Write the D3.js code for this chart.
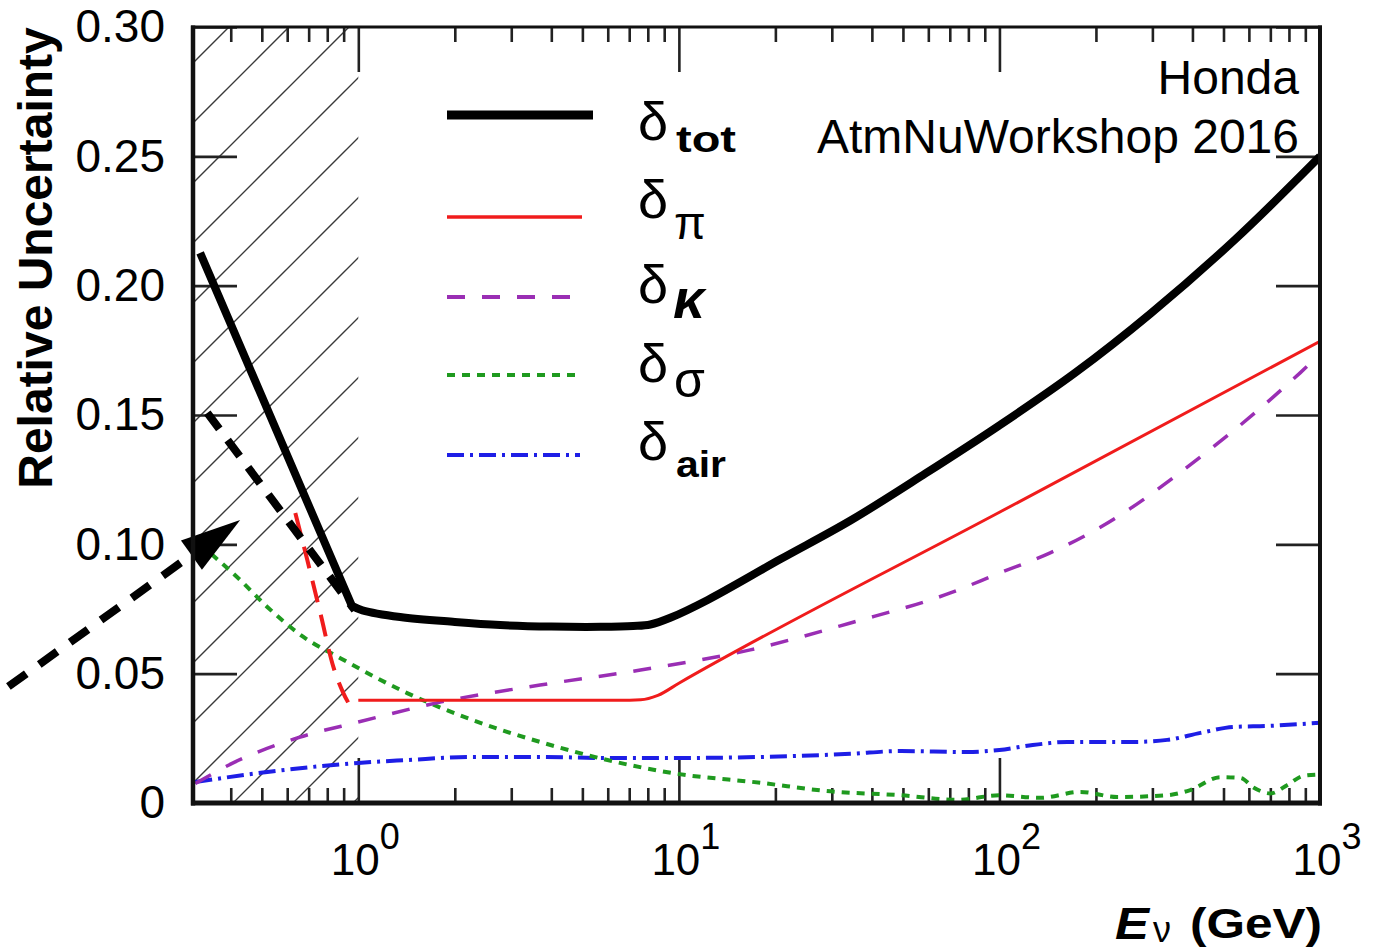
<!DOCTYPE html>
<html>
<head>
<meta charset="utf-8">
<script src="https://cdn.jsdelivr.net/npm/d3@7"></script>
<style>
  body { margin: 0; background: #fff; }
  svg text { font-family: "Liberation Sans", Arial, sans-serif; fill: #000; }
</style>
</head>
<body>
<svg id="chart" width="1375" height="952"></svg>
<script>
// ---- data: [neutrino energy (GeV), relative uncertainty] ----
const deltaTot = [[0.321,0.2127],[0.955,0.0762],[1.03,0.0745],[1.35,0.0719],[2.0,0.0700],[2.77,0.0688],[4.0,0.0682],[5.7,0.0681],[7.2,0.0684],[8.15,0.0690],[9.4,0.0716],[12.3,0.0785],[20.7,0.0942],[34.3,0.1092],[58.8,0.1274],[100,0.1460],[172.7,0.1664],[296,0.1892],[545,0.2180],[1000,0.2500]];
const deltaPi = [[1.0,0.0397],[6.5,0.0397],[7.6,0.0399],[8.6,0.0416],[10,0.0463],[100,0.1124],[1000,0.1785]];
const deltaPiLow = [[0.636,0.1121],[0.693,0.0940],[0.761,0.0735],[0.836,0.0526],[0.898,0.0425],[0.931,0.0387]];
const deltaK = [[0.31,0.0075],[0.407,0.0155],[0.659,0.0255],[1.0,0.0313],[1.80,0.0390],[3.69,0.0456],[7.59,0.0514],[16.7,0.0592],[34.3,0.0696],[70.3,0.0812],[100,0.0889],[144,0.0967],[207,0.1067],[424,0.1338],[867,0.1663],[1000,0.1735]];
const deltaSigma = [[0.321,0.1000],[0.428,0.0862],[0.520,0.0758],[0.674,0.0642],[0.879,0.0560],[1.42,0.0425],[2.28,0.0320],[3.69,0.0236],[5.99,0.0166],[9.63,0.0115],[18.0,0.0078],[29.7,0.0045],[49.1,0.0030],[73.9,0.0012],[100,0.0030],[134,0.0020],[179,0.0043],[233,0.0023],[334,0.0030],[394,0.0050],[489,0.0100],[565,0.0097],[620,0.0060],[701,0.0037],[792,0.0070],[888,0.0105],[1000,0.0110]];
const deltaAir = [[0.31,0.0081],[0.520,0.0120],[0.836,0.0147],[1.0,0.0155],[1.42,0.0166],[2.28,0.0178],[3.69,0.0178],[5.99,0.0174],[9.63,0.0174],[17.96,0.0178],[34.3,0.0190],[49.1,0.0201],[79.4,0.0197],[100,0.0205],[127,0.0224],[163,0.0236],[261,0.0236],[334,0.0244],[424,0.0271],[537,0.0294],[685,0.0298],[1000,0.0310]];

// annotations: arrow, dashed guide and the hatched low-energy band
const arrowPath = [[0.081,0.045],[0.428,0.1094]];
const dashedGuide = [[0.338,0.1508],[0.975,0.0746]];
const hatchRange = [0.305, 1.0];

// axes
const xDomain = [0.305, 1000];
const yDomain = [0, 0.30];
const yTicks = [0, 0.05, 0.10, 0.15, 0.20, 0.25, 0.30];
const yTickLabels = ["0", "0.05", "0.10", "0.15", "0.20", "0.25", "0.30"];
const xMajor = [1, 10, 100, 1000];
const xExponents = ["0", "1", "2", "3"];

// legend
const legendSymbols = ["δ", "δ", "δ", "δ", "δ"];
const legendSubs = ["tot", "π", "κ", "σ", "air"];

// annotation text
const noteLines = ["Honda", "AtmNuWorkshop 2016"];

// ---- layout ----
const L = 193, R = 1320, T = 27, B = 803;
const svg = d3.select("#chart");
const x = d3.scaleLog().domain(xDomain).range([L, R]);
const y = d3.scaleLinear().domain(yDomain).range([B, T]);

const defs = svg.append("defs");
defs.append("clipPath").attr("id", "plotClip")
  .append("rect").attr("x", L).attr("y", T).attr("width", R - L).attr("height", B - T);

const hatch = defs.append("pattern").attr("id", "hatch")
  .attr("patternUnits", "userSpaceOnUse").attr("width", 60).attr("height", 60)
  .attr("patternTransform", "translate(16,0)");
hatch.append("path").attr("d", "M0,60 L60,0 M-2,2 L2,-2 M58,62 L62,58")
  .attr("stroke", "#3a3a3a").attr("stroke-width", 1.4);

// hatched band
svg.append("rect")
  .attr("x", x(hatchRange[0])).attr("y", T)
  .attr("width", x(hatchRange[1]) - x(hatchRange[0])).attr("height", B - T)
  .attr("fill", "url(#hatch)");

// ---- ticks ----
const minor = [];
[0.1, 1, 10, 100].forEach(d => { for (let k = 2; k <= 9; k++) { const v = d * k; if (v > xDomain[0] && v < xDomain[1]) minor.push(v); } });

function styleAxis(g) {
  g.select(".domain").remove();
  g.selectAll(".tick line").attr("stroke", "#222").attr("stroke-width", 2.6);
}

svg.append("g").attr("transform", `translate(0,${B})`)
  .call(d3.axisBottom(x).tickValues(xMajor).tickSize(-45).tickFormat(""))
  .call(styleAxis);
svg.append("g").attr("transform", `translate(0,${B})`)
  .call(d3.axisBottom(x).tickValues(minor).tickSize(-15).tickFormat(""))
  .call(styleAxis);
svg.append("g").attr("transform", `translate(0,${T})`)
  .call(d3.axisTop(x).tickValues(xMajor).tickSize(-45).tickFormat(""))
  .call(styleAxis);
svg.append("g").attr("transform", `translate(0,${T})`)
  .call(d3.axisTop(x).tickValues(minor).tickSize(-15).tickFormat(""))
  .call(styleAxis);

const yLeft = svg.append("g").attr("transform", `translate(${L},0)`)
  .call(d3.axisLeft(y).tickValues(yTicks).tickSize(-44).tickPadding(28)
    .tickFormat((d, i) => yTickLabels[i]))
  .call(styleAxis);
yLeft.selectAll(".tick text").attr("font-size", 46)
  .attr("font-family", "Liberation Sans, Arial, sans-serif").attr("fill", "#000");
svg.append("g").attr("transform", `translate(${R},0)`)
  .call(d3.axisRight(y).tickValues(yTicks).tickSize(-44).tickFormat(""))
  .call(styleAxis);

// decade labels 10^n
const xl = svg.append("g");
xMajor.forEach((v, i) => {
  const t = xl.append("text").attr("x", x(v) + 7).attr("y", 875)
    .attr("text-anchor", "middle").attr("font-size", 44);
  t.append("tspan").text("10");
  t.append("tspan").attr("dy", -26).attr("font-size", 36).text(xExponents[i]);
});

// ---- curves ----
const line = d3.line().x(d => x(d[0])).y(d => y(d[1])).curve(d3.curveMonotoneX);
const smooth = d3.line().x(d => x(d[0])).y(d => y(d[1])).curve(d3.curveCatmullRom.alpha(0.5));
const straight = d3.line().x(d => x(d[0])).y(d => y(d[1]));
const curves = svg.append("g").attr("clip-path", "url(#plotClip)");

curves.append("path").datum(deltaAir).attr("d", line).attr("fill", "none")
  .attr("stroke", "#1e1ee6").attr("stroke-width", 4).attr("stroke-dasharray", "17,6,3,6");
curves.append("path").datum(deltaSigma).attr("d", line).attr("fill", "none")
  .attr("stroke", "#1f9a1f").attr("stroke-width", 4).attr("stroke-dasharray", "8,7");
curves.append("path").datum(deltaK).attr("d", line).attr("fill", "none")
  .attr("stroke", "#9a2eb4").attr("stroke-width", 3.5).attr("stroke-dasharray", "18,17");
curves.append("path").datum(deltaPi).attr("d", line).attr("fill", "none")
  .attr("stroke", "#f01c1c").attr("stroke-width", 3);
curves.append("path").datum(deltaPiLow).attr("d", line).attr("fill", "none")
  .attr("stroke", "#f01c1c").attr("stroke-width", 4).attr("stroke-dasharray", "22,13");
curves.append("path").datum(dashedGuide).attr("d", straight)
  .attr("fill", "none").attr("stroke", "#000").attr("stroke-width", 8).attr("stroke-dasharray", "20,14");

// total: straight steep segment below 1 GeV, smooth curve above
{
  const head = deltaTot[0];
  const tail = smooth(deltaTot.slice(1)).replace(/^M/, "L");
  curves.append("path").attr("d", `M${x(head[0])},${y(head[1])}${tail}`)
    .attr("fill", "none").attr("stroke", "#000").attr("stroke-width", 8)
    .attr("stroke-linejoin", "round");
}

// arrow (extends beyond the frame on the left)
{
  const p0 = [x(arrowPath[0][0]), y(arrowPath[0][1])];
  const p1 = [x(arrowPath[1][0]), y(arrowPath[1][1])];
  const dx = p1[0] - p0[0], dy = p1[1] - p0[1], len = Math.hypot(dx, dy);
  const ux = dx / len, uy = dy / len, headLen = 60, half = 18;
  const base = [p1[0] - ux * headLen, p1[1] - uy * headLen];
  svg.append("line").attr("x1", p0[0]).attr("y1", p0[1])
    .attr("x2", base[0] + ux * 6).attr("y2", base[1] + uy * 6)
    .attr("stroke", "#000").attr("stroke-width", 8).attr("stroke-dasharray", "22,16");
  svg.append("path")
    .attr("d", `M${p1[0]},${p1[1]} L${base[0] - uy * half},${base[1] + ux * half} L${base[0] + uy * half},${base[1] - ux * half} Z`)
    .attr("fill", "#000");
}

// ---- frame ----
const frame = svg.append("g").attr("stroke", "#111");
frame.append("line").attr("x1", L).attr("x2", L).attr("y1", T - 1.5).attr("y2", B + 2.5).attr("stroke-width", 4.5);
frame.append("line").attr("x1", L - 2).attr("x2", R + 2).attr("y1", B).attr("y2", B).attr("stroke-width", 5);
frame.append("line").attr("x1", R).attr("x2", R).attr("y1", T - 1.5).attr("y2", B + 2.5).attr("stroke-width", 4);
frame.append("line").attr("x1", L - 2).attr("x2", R + 2).attr("y1", T).attr("y2", T).attr("stroke-width", 3);

// ---- axis titles ----
svg.append("text").attr("transform", "translate(52,258) rotate(-90)")
  .attr("text-anchor", "middle").attr("font-size", 48).attr("font-weight", "bold")
  .text("Relative Uncertainty");

svg.append("text").attr("x", 1115).attr("y", 939)
  .attr("font-size", 44).attr("font-weight", "bold").attr("font-style", "italic")
  .attr("textLength", 34).attr("lengthAdjust", "spacingAndGlyphs").text("E");
svg.append("text").attr("x", 1153).attr("y", 942)
  .attr("font-family", "Liberation Serif, serif").attr("font-size", 36).text("ν");
svg.append("text").attr("x", 1190).attr("y", 938)
  .attr("font-size", 42).attr("font-weight", "bold")
  .attr("textLength", 132).attr("lengthAdjust", "spacingAndGlyphs").text("(GeV)");

// ---- note ----
noteLines.forEach((s, i) => {
  svg.append("text").attr("x", 1299).attr("y", [94, 153][i]).attr("text-anchor", "end")
    .attr("font-size", 48).text(s);
});

// ---- legend ----
const legendY = [115, 217, 297, 375, 455];
const legendStyles = [
  { stroke: "#000", w: 9, dash: null, x2: 593 },
  { stroke: "#f01c1c", w: 3.5, dash: null, x2: 582 },
  { stroke: "#9a2eb4", w: 4, dash: "18,17", x2: 573 },
  { stroke: "#1f9a1f", w: 4, dash: "8,7", x2: 582 },
  { stroke: "#1e1ee6", w: 4, dash: "17,6,3,6", x2: 580 }
];
const symBase = [140, 218, 303, 382, 460];
const subStyles = [
  { base: 152, size: 36, family: "Liberation Sans, Arial, sans-serif", weight: "bold", style: "normal", x: 676, len: 60 },
  { base: 239, size: 46, family: "Liberation Serif, serif", weight: "normal", style: "normal", x: 674, len: null },
  { base: 318, size: 56, family: "Liberation Sans, Arial, sans-serif", weight: "bold", style: "italic", x: 673, len: null },
  { base: 397, size: 50, family: "Liberation Serif, serif", weight: "normal", style: "normal", x: 674, len: null },
  { base: 477, size: 36, family: "Liberation Sans, Arial, sans-serif", weight: "bold", style: "normal", x: 676, len: 50 }
];
const lg = svg.append("g");
legendSubs.forEach((sub, i) => {
  const st = legendStyles[i];
  const ln = lg.append("line").attr("x1", 447).attr("x2", st.x2)
    .attr("y1", legendY[i]).attr("y2", legendY[i])
    .attr("stroke", st.stroke).attr("stroke-width", st.w);
  if (st.dash) ln.attr("stroke-dasharray", st.dash);
  lg.append("text").attr("x", 638).attr("y", symBase[i])
    .attr("font-family", "Liberation Serif, serif").attr("font-size", 54).text(legendSymbols[i]);
  const ss = subStyles[i];
  const t = lg.append("text").attr("x", ss.x).attr("y", ss.base)
    .attr("font-family", ss.family).attr("font-size", ss.size)
    .attr("font-weight", ss.weight).attr("font-style", ss.style).text(sub);
  if (ss.len) t.attr("textLength", ss.len).attr("lengthAdjust", "spacingAndGlyphs");
});
</script>
</body>
</html>
